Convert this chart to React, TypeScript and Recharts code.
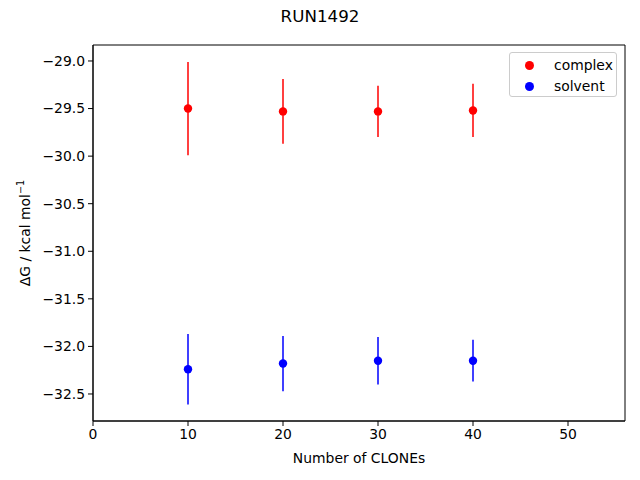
import React from 'react';
import { ScatterChart, Scatter, XAxis, YAxis, ErrorBar, ReferenceArea } from 'recharts';

const clones = [10, 20, 30, 40];
const complexDG = [-29.5, -29.53, -29.53, -29.52];
const complexErr = [0.49, 0.34, 0.27, 0.28];
const solventDG = [-32.24, -32.18, -32.15, -32.15];
const solventErr = [0.37, 0.29, 0.25, 0.22];
const xTicks = [0, 10, 20, 30, 40, 50];
const yTicks = [-29.0, -29.5, -30.0, -30.5, -31.0, -31.5, -32.0, -32.5];
const xDomain = [0, 56];
const yDomain = [-32.784, -28.832];

const complexData = clones.map((x, i) => ({ x, y: complexDG[i], err: complexErr[i] }));
const solventData = clones.map((x, i) => ({ x, y: solventDG[i], err: solventErr[i] }));

const FONT = '"DejaVu Sans", sans-serif';

const fmtY = (v: number) => (v < 0 ? '\u2212' : '') + Math.abs(v).toFixed(1);

const dot = (color: string) => (props: any) => (
  <circle cx={props.cx} cy={props.cy} r={4.2} fill={color} />
);

const YLabel = (props: any) => {
  const vb = props.viewBox || { x: 0, y: 45, width: 93, height: 376 };
  const x = vb.x + 30;
  const y = vb.y + vb.height / 2;
  return (
    <text
      x={x}
      y={y}
      transform={`rotate(-90, ${x}, ${y})`}
      textAnchor="middle"
      fontSize={13.9}
      fontFamily={FONT}
      fill="#000"
    >
      ΔG / kcal mol
      <tspan dy={-6} fontSize={9.7}>−1</tspan>
    </text>
  );
};

const tickStyle = { fontSize: 13.9, fontFamily: FONT, fill: '#000' };

export default function App() {
  return (
    <div style={{ position: 'absolute', left: 0, top: 0, width: 640, height: 480, background: '#fff' }}>
      <div
        style={{
          position: 'absolute',
          left: 0,
          top: 6,
          width: 640,
          textAlign: 'center',
          fontFamily: FONT,
          fontSize: 16.7,
          lineHeight: '20px',
          color: '#000',
        }}
      >
        RUN1492
      </div>
      <ScatterChart width={640} height={480} margin={{ top: 45, right: 15, bottom: 29, left: 0 }}>
        <XAxis
          xAxisId="b"
          type="number"
          dataKey="x"
          domain={xDomain}
          ticks={xTicks}
          allowDataOverflow
          height={30}
          tickSize={5}
          tickMargin={3}
          tick={tickStyle}
          axisLine={{ stroke: '#000', strokeWidth: 1 }}
          tickLine={{ stroke: '#000' }}
          label={{ value: 'Number of CLONEs', position: 'insideBottom', offset: -12, style: { fontSize: 13.9, fontFamily: FONT, fill: '#000' } }}
        />
        <YAxis
          yAxisId="l"
          type="number"
          dataKey="y"
          domain={yDomain}
          ticks={yTicks}
          allowDataOverflow
          width={93}
          tickSize={5}
          tickMargin={3}
          tick={tickStyle}
          tickFormatter={fmtY}
          axisLine={{ stroke: '#000', strokeWidth: 1 }}
          tickLine={{ stroke: '#000' }}
          label={{ content: YLabel }}
        />
        <ReferenceArea
          xAxisId="b"
          yAxisId="l"
          x1={xDomain[0]}
          x2={xDomain[1]}
          y1={yDomain[0]}
          y2={yDomain[1]}
          fill="none"
          fillOpacity={0}
          stroke="#000"
          strokeWidth={1}
          strokeOpacity={1}
          ifOverflow="visible"
        />
        <Scatter
          name="complex"
          data={complexData}
          xAxisId="b"
          yAxisId="l"
          fill="#ff0000"
          shape={dot('#ff0000')}
          isAnimationActive={false}
        >
          <ErrorBar dataKey="err" direction="y" width={0} stroke="#ff0000" strokeWidth={1.5} isAnimationActive={false} />
        </Scatter>
        <Scatter
          name="solvent"
          data={solventData}
          xAxisId="b"
          yAxisId="l"
          fill="#0000ff"
          shape={dot('#0000ff')}
          isAnimationActive={false}
        >
          <ErrorBar dataKey="err" direction="y" width={0} stroke="#0000ff" strokeWidth={1.5} isAnimationActive={false} />
        </Scatter>
      </ScatterChart>
      <div
        style={{
          position: 'absolute',
          left: 509,
          top: 52,
          width: 108,
          height: 45,
          border: '1px solid #cccccc',
          borderRadius: 3,
          background: 'rgba(255,255,255,0.8)',
          fontFamily: FONT,
          fontSize: 13.9,
          color: '#000',
          boxSizing: 'border-box',
        }}
      >
        {[
          { name: 'complex', color: '#ff0000', top: 4 },
          { name: 'solvent', color: '#0000ff', top: 25 },
        ].map((it) => (
          <div key={it.name} style={{ position: 'absolute', left: 0, top: it.top, height: 17, width: 106 }}>
            <span
              style={{
                position: 'absolute',
                left: 15,
                top: 4,
                width: 9,
                height: 9,
                borderRadius: '50%',
                background: it.color,
              }}
            />
            <span style={{ position: 'absolute', left: 44, top: 0, lineHeight: '17px' }}>{it.name}</span>
          </div>
        ))}
      </div>
    </div>
  );
}
